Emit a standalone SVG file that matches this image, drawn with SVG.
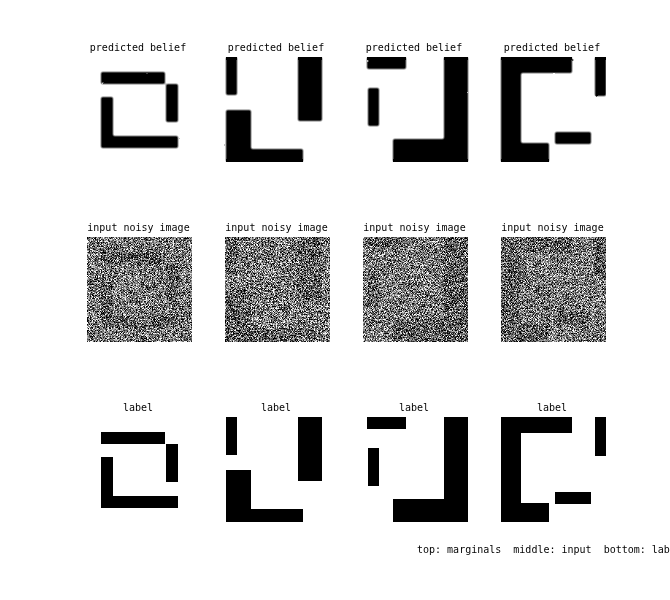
<svg xmlns="http://www.w3.org/2000/svg" width="670" height="600" viewBox="0 0 670 600">
<style>
text{font-family:"DejaVu Sans Mono","Liberation Mono",monospace;font-size:10px;fill:#000;text-anchor:middle;opacity:.99}
.note{text-anchor:start}
.belief{filter:url(#rough)}
</style>
<defs>
<filter id="rough" filterUnits="userSpaceOnUse" x="0" y="0" width="670" height="600" color-interpolation-filters="sRGB">
<feGaussianBlur in="SourceGraphic" stdDeviation="0.9" result="b"/>
<feTurbulence type="fractalNoise" baseFrequency="0.14" numOctaves="1" seed="9" result="t"/>
<feDisplacementMap in="b" in2="t" scale="2" xChannelSelector="R" yChannelSelector="G"/>
<feGaussianBlur stdDeviation="0.6"/>
<feColorMatrix type="matrix" values="0 0 0 0 0 0 0 0 0 0 0 0 0 0 0 0 0 0 1.5 -0.25"/>
</filter>
<filter id="n1" filterUnits="userSpaceOnUse" x="87" y="237" width="105" height="105" color-interpolation-filters="sRGB"><feTurbulence type="fractalNoise" baseFrequency="1.37" numOctaves="1" seed="11" result="t"/><feComposite in="t" in2="SourceGraphic" operator="arithmetic" k1="0" k2="1" k3="0.02" k4="0"/><feColorMatrix type="matrix" values="3 0 0 0 -1.08 3 0 0 0 -1.08 3 0 0 0 -1.08 0 0 0 0 1"/><feColorMatrix type="matrix" values="1 0 0 0 0 1 0 0 0 0 1 0 0 0 0 0 0 0 0 1"/><feGaussianBlur stdDeviation="0.3"/></filter>
<filter id="n2" filterUnits="userSpaceOnUse" x="225" y="237" width="105" height="105" color-interpolation-filters="sRGB"><feTurbulence type="fractalNoise" baseFrequency="1.37" numOctaves="1" seed="23" result="t"/><feComposite in="t" in2="SourceGraphic" operator="arithmetic" k1="0" k2="1" k3="0.02" k4="0"/><feColorMatrix type="matrix" values="3 0 0 0 -1.08 3 0 0 0 -1.08 3 0 0 0 -1.08 0 0 0 0 1"/><feColorMatrix type="matrix" values="1 0 0 0 0 1 0 0 0 0 1 0 0 0 0 0 0 0 0 1"/><feGaussianBlur stdDeviation="0.3"/></filter>
<filter id="n3" filterUnits="userSpaceOnUse" x="363" y="237" width="105" height="105" color-interpolation-filters="sRGB"><feTurbulence type="fractalNoise" baseFrequency="1.37" numOctaves="1" seed="37" result="t"/><feComposite in="t" in2="SourceGraphic" operator="arithmetic" k1="0" k2="1" k3="0.02" k4="0"/><feColorMatrix type="matrix" values="3 0 0 0 -1.08 3 0 0 0 -1.08 3 0 0 0 -1.08 0 0 0 0 1"/><feColorMatrix type="matrix" values="1 0 0 0 0 1 0 0 0 0 1 0 0 0 0 0 0 0 0 1"/><feGaussianBlur stdDeviation="0.3"/></filter>
<filter id="n4" filterUnits="userSpaceOnUse" x="501" y="237" width="105" height="105" color-interpolation-filters="sRGB"><feTurbulence type="fractalNoise" baseFrequency="1.37" numOctaves="1" seed="51" result="t"/><feComposite in="t" in2="SourceGraphic" operator="arithmetic" k1="0" k2="1" k3="0.02" k4="0"/><feColorMatrix type="matrix" values="3 0 0 0 -1.08 3 0 0 0 -1.08 3 0 0 0 -1.08 0 0 0 0 1"/><feColorMatrix type="matrix" values="1 0 0 0 0 1 0 0 0 0 1 0 0 0 0 0 0 0 0 1"/><feGaussianBlur stdDeviation="0.3"/></filter>
<g id="s1"><rect x="101" y="72" width="64" height="12"/><rect x="166" y="84" width="12" height="38"/><rect x="101" y="97" width="12" height="51"/><rect x="101" y="136" width="77" height="12"/></g>
<g id="s2"><rect x="226" y="57" width="11" height="38"/><rect x="298" y="57" width="24" height="64"/><rect x="226" y="110" width="25" height="52"/><rect x="226" y="149" width="77" height="13"/></g>
<g id="s3"><rect x="367" y="57" width="39" height="12"/><rect x="368" y="88" width="11" height="38"/><rect x="444" y="57" width="24" height="105"/><rect x="393" y="139" width="75" height="23"/></g>
<g id="s4"><rect x="501" y="57" width="71" height="16"/><rect x="501" y="57" width="20" height="105"/><rect x="501" y="143" width="48" height="19"/><rect x="595" y="57" width="11" height="39"/><rect x="555" y="132" width="36" height="12"/></g>
<clipPath id="top"><rect x="80" y="57" width="526" height="105"/></clipPath>
</defs>
<rect id="background" width="670" height="600" fill="#fff"/>
<g clip-path="url(#top)">
<rect x="226" y="57" width="11" height="3"/><rect x="298" y="57" width="24" height="3"/><rect x="367" y="57" width="39" height="3"/><rect x="444" y="57" width="24" height="3"/><rect x="501" y="57" width="71" height="3"/><rect x="595" y="57" width="11" height="3"/>
<rect x="226" y="159" width="77" height="3"/><rect x="393" y="159" width="75" height="3"/><rect x="501" y="159" width="48" height="3"/>
<use href="#s1" class="belief"/><use href="#s2" class="belief"/><use href="#s3" class="belief"/><use href="#s4" class="belief"/>
</g>
<g id="belief-1"><text x="138" y="51">predicted belief</text></g>
<g id="belief-2"><text x="276" y="51">predicted belief</text></g>
<g id="belief-3"><text x="414" y="51">predicted belief</text></g>
<g id="belief-4"><text x="552" y="51">predicted belief</text></g>
<g id="input-1"><text x="138.5" y="231">input noisy image</text><g filter="url(#n1)"><rect x="87" y="237" width="105" height="105" fill="#fff"/><use href="#s1" y="180" fill="#000"/></g></g>
<g id="input-2"><text x="276.5" y="231">input noisy image</text><g filter="url(#n2)"><rect x="225" y="237" width="105" height="105" fill="#fff"/><use href="#s2" y="180" fill="#000"/></g></g>
<g id="input-3"><text x="414.5" y="231">input noisy image</text><g filter="url(#n3)"><rect x="363" y="237" width="105" height="105" fill="#fff"/><use href="#s3" y="180" fill="#000"/></g></g>
<g id="input-4"><text x="552.5" y="231">input noisy image</text><g filter="url(#n4)"><rect x="501" y="237" width="105" height="105" fill="#fff"/><use href="#s4" y="180" fill="#000"/></g></g>
<g id="label-1"><text x="138" y="411">label</text><use href="#s1" y="360"/></g>
<g id="label-2"><text x="276" y="411">label</text><use href="#s2" y="360"/></g>
<g id="label-3"><text x="414" y="411">label</text><use href="#s3" y="360"/></g>
<g id="label-4"><text x="552" y="411">label</text><use href="#s4" y="360"/></g>
<text class="note" x="417" y="553" xml:space="preserve">top: marginals  middle: input  bottom: labe</text>
</svg>
